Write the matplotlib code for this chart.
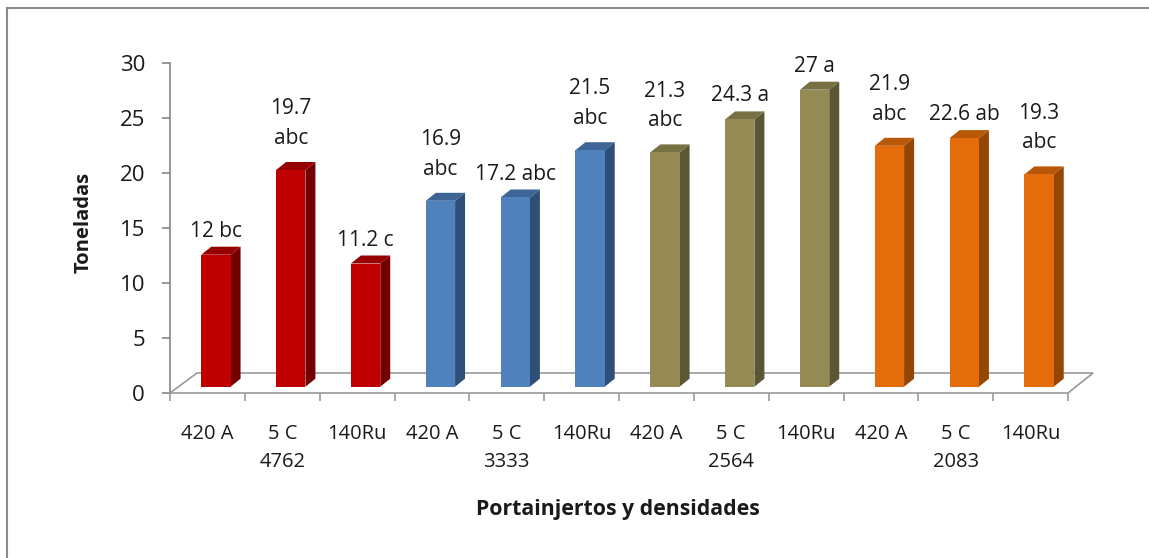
import matplotlib
matplotlib.use("Agg")
import matplotlib.pyplot as plt
from matplotlib.patches import Polygon
from matplotlib.lines import Line2D

# ---------------- data ----------------
categories = ["420 A", "5 C\n4762", "140Ru",
              "420 A", "5 C\n3333", "140Ru",
              "420 A", "5 C\n2564", "140Ru",
              "420 A", "5 C\n2083", "140Ru"]
values = [12, 19.7, 11.2, 16.9, 17.2, 21.5, 21.3, 24.3, 27, 21.9, 22.6, 19.3]
bar_labels = ["12 bc", "19.7\nabc", "11.2 c", "16.9\nabc", "17.2 abc", "21.5\nabc",
              "21.3\nabc", "24.3 a", "27 a", "21.9\nabc", "22.6 ab", "19.3\nabc"]
groups = [0, 0, 0, 1, 1, 1, 2, 2, 2, 3, 3, 3]
y_ticks = [0, 5, 10, 15, 20, 25, 30]

# front / top / side colours per group
front_colors = ["#C00000", "#4F81BD", "#948A54", "#E46C0A"]
top_colors = ["#960000", "#3D6697", "#767043", "#B85707"]
side_colors = ["#750000", "#2F4F78", "#5C5634", "#944605"]

plt.rcParams["font.family"] = ["Open Sans", "DejaVu Sans"]
txt = "#1a1a1a"

W, H = 1149, 558
fig = plt.figure(figsize=(W / 100, H / 100), dpi=100)
left_px, right_px, bottom_px, top_px = 170, 1068, 393, 63
ax = fig.add_axes([left_px / W, (H - bottom_px) / H,
                   (right_px - left_px) / W, (bottom_px - top_px) / H])
n = len(values)
ax.set_xlim(0, n)
ax.set_ylim(0, 30)

px_x = (right_px - left_px) / n      # pixels per x unit
px_y = (bottom_px - top_px) / 30.0   # pixels per y unit

# floor (perspective)
fdx, fdy = 27 / px_x, 20 / px_y
grey = "#9A9A9A"
floor = [(0, 0), (fdx, fdy), (n + fdx * 0.93, fdy), (n, 0)]
ax.add_patch(Polygon(floor, closed=False, fill=False, edgecolor=grey, lw=1.2,
                     clip_on=False, zorder=1))

# bars
base_f = 0.315
bx, by = base_f * fdx, base_f * fdy
half_w = 14.65 / px_x
sdx, sdy = 10 / px_x, 8 / px_y
for i, (v, g) in enumerate(zip(values, groups)):
    c = i + 0.5 + bx
    x0, x1 = c - half_w, c + half_w
    y0, y1 = by, by + v
    front = [(x0, y0), (x0, y1), (x1, y1), (x1, y0)]
    top = [(x0, y1), (x0 + sdx, y1 + sdy), (x1 + sdx, y1 + sdy), (x1, y1)]
    side = [(x1, y0), (x1, y1), (x1 + sdx, y1 + sdy), (x1 + sdx, y0 + sdy)]
    ax.add_patch(Polygon(side, closed=True, facecolor=side_colors[g], edgecolor="none",
                         clip_on=False, zorder=3))
    ax.add_patch(Polygon(top, closed=True, facecolor=top_colors[g], edgecolor="none",
                         clip_on=False, zorder=3))
    ax.add_patch(Polygon(front, closed=True, facecolor=front_colors[g], edgecolor="none",
                         clip_on=False, zorder=4))
    lab = bar_labels[i]
    gap_px = 13 if "\n" in lab else 5
    ax.annotate(lab, xy=(c, y1 + sdy), xytext=(0, gap_px * 0.72),
                textcoords="offset points", ha="center", va="bottom",
                fontsize=15, color=txt, linespacing=1.55, zorder=6,
                annotation_clip=False)

# axes styling
for s in ["top", "right"]:
    ax.spines[s].set_visible(False)
ax.spines["left"].set_color("#868686")
ax.spines["bottom"].set_color(grey)
ax.spines["left"].set_linewidth(1.2)
ax.spines["bottom"].set_linewidth(1.2)
ax.set_yticks(y_ticks)
ax.set_yticklabels([str(t) for t in y_ticks])
ax.tick_params(axis="y", length=6, width=1.2, color="#868686", pad=12,
               labelsize=16, labelcolor=txt)
ax.set_xticks(range(n + 1))
ax.set_xticklabels([])
ax.set_xticks([i + 0.5 for i in range(n)], minor=True)
ax.set_xticklabels(categories, minor=True, fontsize=14.5, color=txt,
                   linespacing=1.55, va="top")
ax.tick_params(axis="x", which="major", length=6, width=1.2, color=grey, direction="out")
ax.tick_params(axis="x", which="minor", length=0, pad=22)

fig.text(84 / W, 1 - 222 / H, "Toneladas", rotation=90, ha="center", va="center",
         fontsize=14.5, fontweight="bold", color=txt)
fig.text(618 / W, 1 - 510 / H, "Portainjertos y densidades", ha="center", va="center",
         fontsize=15.3, fontweight="bold", color=txt)

# chart-area border (left and top visible)
fig.add_artist(Line2D([7 / W, 7 / W], [0, 1 - 8 / H], transform=fig.transFigure,
                      color="#8a8a8a", lw=1.5))
fig.add_artist(Line2D([7 / W, 1], [1 - 8 / H, 1 - 8 / H], transform=fig.transFigure,
                      color="#8a8a8a", lw=1.5))

fig.savefig("out.png", dpi=100, facecolor="white")
